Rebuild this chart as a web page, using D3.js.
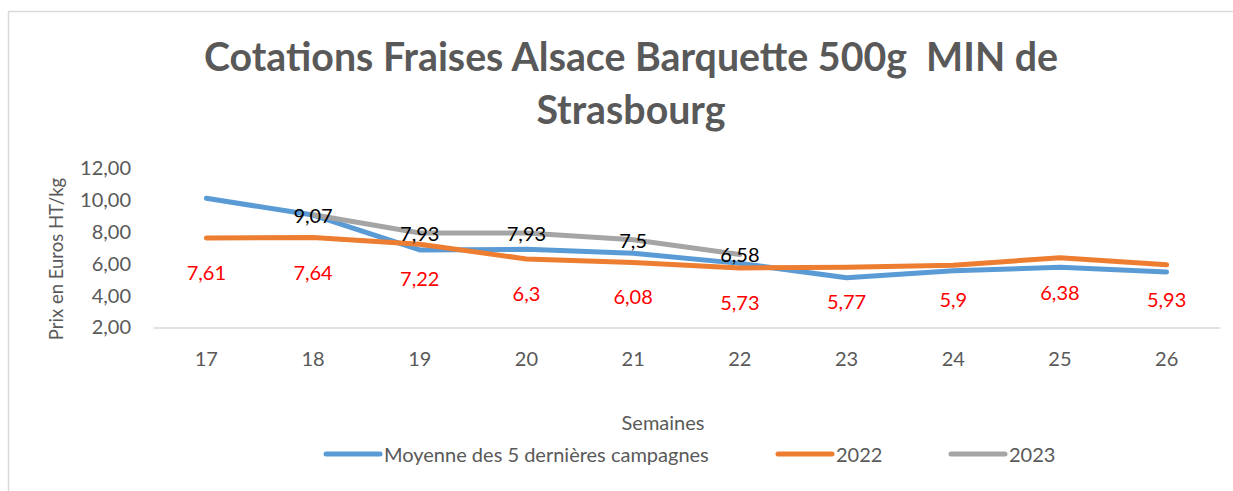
<!DOCTYPE html>
<html>
<head>
<meta charset="utf-8">
<script src="https://cdn.jsdelivr.net/npm/d3@7"></script>
<style>
  body { margin: 0; background: #fff; }
  text { font-family: Lato, "Open Sans", sans-serif; }
</style>
</head>
<body>
<div id="chart"></div>
<script>
// data
const weeks = ["17", "18", "19", "20", "21", "22", "23", "24", "25", "26"];
const moyenne = [10.1, 9.05, 6.86, 6.9, 6.65, 6.02, 5.12, 5.56, 5.77, 5.48];
const y2022 = [7.61, 7.64, 7.22, 6.3, 6.08, 5.73, 5.77, 5.9, 6.38, 5.93];
const y2023 = [null, 9.07, 7.93, 7.93, 7.5, 6.58, null, null, null, null];
const yTicks = [2, 4, 6, 8, 10, 12];
const seriesNames = ["Moyenne des 5 dernières campagnes", "2022", "2023"];
const seriesColors = ["#5B9BD5", "#ED7D31", "#A5A5A5"];

const width = 1233, height = 491;
const margin = {top: 168, right: 13, bottom: 163.5, left: 153};

const svg = d3.select("#chart")
  .append("svg")
    .attr("width", width)
    .attr("height", height);

// chart frame
svg.append("rect")
  .attr("x", 8.5).attr("y", 11.5)
  .attr("width", 1300).attr("height", 600)
  .attr("fill", "none")
  .attr("stroke", "#D9D9D9")
  .attr("stroke-width", 1.5);

// title
const title = svg.append("text")
  .attr("x", 631)
  .attr("text-anchor", "middle")
  .attr("fill", "#595959")
  .attr("font-weight", "bold")
  .attr("font-size", 39.3);
title.append("tspan").attr("x", 631).attr("y", 71).text("Cotations Fraises Alsace Barquette 500g\u00a0 MIN de");
title.append("tspan").attr("x", 631).attr("y", 124).text("Strasbourg");

// scales
const x = d3.scaleBand()
  .domain(weeks)
  .range([margin.left, width - margin.right]);
const cx = d => x(d) + x.bandwidth() / 2;

const y = d3.scaleLinear()
  .domain([2, 12])
  .range([height - margin.bottom, margin.top]);

// x axis
const xAxis = svg.append("g")
  .attr("transform", `translate(0, ${y(2)})`)
  .call(d3.axisBottom(x).tickSize(0).tickPadding(24));
xAxis.select(".domain").attr("stroke", "#D9D9D9").attr("stroke-width", 1.5);
xAxis.selectAll("text")
  .attr("font-size", 20)
  .attr("fill", "#595959")
  .attr("font-family", "Lato, sans-serif");

// y axis
const yAxis = svg.append("g")
  .attr("transform", `translate(${margin.left}, 0)`)
  .call(d3.axisLeft(y).tickValues(yTicks).tickSize(0).tickPadding(22)
    .tickFormat(d => d3.format(".2f")(d).replace(".", ",")));
yAxis.select(".domain").remove();
yAxis.selectAll("text")
  .attr("font-size", 20)
  .attr("fill", "#595959")
  .attr("font-family", "Lato, sans-serif");

// axis titles
svg.append("text")
  .attr("transform", `translate(63, 259) rotate(-90)`)
  .attr("text-anchor", "middle")
  .attr("font-size", 18.5)
  .attr("fill", "#595959")
  .text("Prix en Euros HT/kg");

svg.append("text")
  .attr("x", 663).attr("y", 430)
  .attr("text-anchor", "middle")
  .attr("font-size", 20)
  .attr("fill", "#595959")
  .text("Semaines");

// lines
const line = d3.line()
  .defined(d => d[1] !== null)
  .x(d => cx(d[0]))
  .y(d => y(d[1]));

const allSeries = [moyenne, y2022, y2023];
allSeries.forEach((vals, i) => {
  svg.append("path")
    .datum(weeks.map((w, j) => [w, vals[j]]))
    .attr("fill", "none")
    .attr("stroke", seriesColors[i])
    .attr("stroke-width", 5)
    .attr("stroke-linecap", "round")
    .attr("stroke-linejoin", "round")
    .attr("d", line);
});

// data labels
const fmt = v => String(v).replace(".", ",");

svg.append("g")
  .selectAll("text")
  .data(weeks.map((w, j) => [w, y2022[j]]))
  .join("text")
    .attr("x", d => cx(d[0]))
    .attr("y", d => y(d[1]) + 34)
    .attr("text-anchor", "middle")
    .attr("dominant-baseline", "central")
    .attr("font-size", 20)
    .attr("fill", "#FF0000")
    .text(d => fmt(d[1]));

svg.append("g")
  .selectAll("text")
  .data(weeks.map((w, j) => [w, y2023[j]]).filter(d => d[1] !== null))
  .join("text")
    .attr("x", d => cx(d[0]))
    .attr("y", d => y(d[1]))
    .attr("text-anchor", "middle")
    .attr("dominant-baseline", "central")
    .attr("font-size", 20)
    .attr("fill", "#000")
    .text(d => fmt(d[1]));

// legend
const legendX = [326, 778, 951];
const legend = svg.append("g");
seriesNames.forEach((name, i) => {
  legend.append("line")
    .attr("x1", legendX[i]).attr("x2", legendX[i] + 54)
    .attr("y1", 454).attr("y2", 454)
    .attr("stroke", seriesColors[i])
    .attr("stroke-width", 5)
    .attr("stroke-linecap", "round");
  legend.append("text")
    .attr("x", legendX[i] + 58).attr("y", 454)
    .attr("dominant-baseline", "central")
    .attr("font-size", 20)
    .attr("fill", "#595959")
    .text(name);
});
</script>
</body>
</html>
